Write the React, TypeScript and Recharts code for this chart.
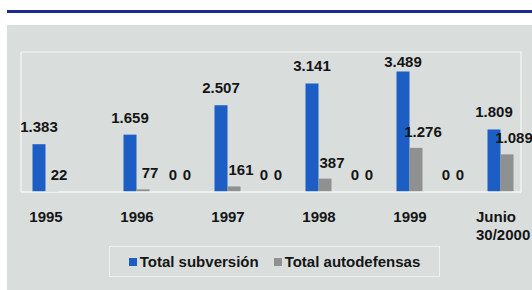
import React from "react";
import {
  ComposedChart,
  Bar,
  Line,
  XAxis,
  YAxis,
  CartesianGrid,
  Legend,
  LabelList,
} from "recharts";

const categories = ["1995", "1996", "1997", "1998", "1999", "Junio\n30/2000"];
const subversion = [1383, 1659, 2507, 3141, 3489, 1809];
const autodefensas = [22, 77, 161, 387, 1276, 1089];
const ceroA = [null, 0, 0, 0, 0, null];
const ceroB = [null, 0, 0, 0, 0, null];
const seriesNames = ["Total subversión", "Total autodefensas"];

const data = categories.map((c, i) => ({
  year: c,
  sub: subversion[i],
  auto: autodefensas[i],
  z1: ceroA[i],
  z2: ceroB[i],
}));

const FONT = "'Liberation Sans', Arial, sans-serif";
const BLUE = "#1d5ec4";
const GRAY = "#8e9190";
const BG = "#d9dedd";

const fmt = (v: number) => String(v).replace(/\B(?=(\d{3})+(?!\d))/g, ".");

const makeLabel = (dx: number, lift: number, minY: number) => (props: any) => {
  const vb = props.viewBox || props;
  const { value } = props;
  if (value === null || value === undefined) return null;
  const x = (vb.x ?? props.x) + (vb.width ?? 0) / 2 + dx;
  const top = vb.y ?? props.y;
  const center = Math.max(top - lift, minY);
  return (
    <text
      x={x}
      y={center + 5}
      textAnchor="middle"
      fontFamily={FONT}
      fontWeight="bold"
      fontSize={15}
      fill="#151515"
    >
      {fmt(Number(value))}
    </text>
  );
};

const CatTick = (props: any) => {
  const { x, y, payload } = props;
  const lines = String(payload.value).split("\n");
  const multi = lines.length > 1;
  return (
    <g>
      {lines.map((ln, i) => (
        <text
          key={i}
          x={multi ? x - 24 : x + 1}
          y={y + 30 + i * 18}
          textAnchor={multi ? "start" : "middle"}
          fontFamily={FONT}
          fontWeight="bold"
          fontSize={15}
          fill="#151515"
        >
          {ln}
        </text>
      ))}
    </g>
  );
};

const LegendBox = (props: any) => {
  const items = (props.payload || [])
    .filter((p: any) => p.type !== "none")
    .slice()
    .sort((a: any, b: any) => seriesNames.indexOf(a.value) - seriesNames.indexOf(b.value));
  return (
    <div
      style={{
        boxSizing: "border-box",
        width: 331,
        height: 31,
        border: "1px solid #eef1f0",
        display: "flex",
        alignItems: "center",
        justifyContent: "center",
        fontFamily: FONT,
        fontWeight: "bold",
        fontSize: 15,
        color: "#151515",
      }}
    >
      {items.map((p: any, i: number) => (
        <span
          key={i}
          style={{ display: "inline-flex", alignItems: "center", marginLeft: i ? 15 : 0 }}
        >
          <span
            style={{
              display: "inline-block",
              width: 8,
              height: 8,
              background: p.color,
              marginRight: 3,
            }}
          />
          {p.value}
        </span>
      ))}
    </div>
  );
};

export default function App() {
  return (
    <div
      style={{
        position: "fixed",
        left: 0,
        top: 0,
        width: 532,
        height: 290,
        overflow: "hidden",
        background: "#ffffff",
      }}
    >
      <div
        style={{ position: "absolute", left: 7, top: 10, width: 525, height: 3, background: "#1b2a8e" }}
      />
      <div
        style={{ position: "absolute", left: 7, top: 25, width: 525, height: 265, background: BG }}
      />
      <div style={{ position: "absolute", left: 0, top: 0 }}>
        <ComposedChart
          width={532}
          height={290}
          data={data}
          margin={{ top: 52, right: 11, bottom: 68, left: 21 }}
          barSize={13}
          barGap={0}
        >
          <CartesianGrid
            stroke="#f4f7f6"
            strokeWidth={1.2}
            fill="none"
            horizontalCoordinatesGenerator={({ offset }: any) => [offset.top]}
            verticalCoordinatesGenerator={({ offset }: any) => [
              offset.left,
              offset.left + offset.width,
            ]}
          />
          <XAxis
            dataKey="year"
            interval={0}
            height={30}
            padding={{ left: -21.5, right: -24.5 }}
            axisLine={{ stroke: "#f4f7f6", strokeWidth: 1.5 }}
            tickLine={false}
            tickSize={0}
            tickMargin={0}
            tick={<CatTick />}
          />
          <YAxis hide domain={[0, 4050]} />
          <Legend
            layout="horizontal"
            verticalAlign="middle"
            align="center"
            content={<LegendBox />}
            wrapperStyle={{ left: 109, top: 246, width: 331, height: 31 }}
          />
          <Bar dataKey="sub" name={seriesNames[0]} fill={BLUE} isAnimationActive={false}>
            <LabelList dataKey="sub" content={makeLabel(0, 17, 62)} />
          </Bar>
          <Bar dataKey="auto" name={seriesNames[1]} fill={GRAY} isAnimationActive={false}>
            <LabelList dataKey="auto" content={makeLabel(7, 16, 0)} />
          </Bar>
          <Line
            dataKey="z1"
            stroke="none"
            dot={false}
            activeDot={false}
            legendType="none"
            isAnimationActive={false}
          >
            <LabelList dataKey="z1" content={makeLabel(37, 17, 0)} />
          </Line>
          <Line
            dataKey="z2"
            stroke="none"
            dot={false}
            activeDot={false}
            legendType="none"
            isAnimationActive={false}
          >
            <LabelList dataKey="z2" content={makeLabel(51, 17, 0)} />
          </Line>
        </ComposedChart>
      </div>
    </div>
  );
}
